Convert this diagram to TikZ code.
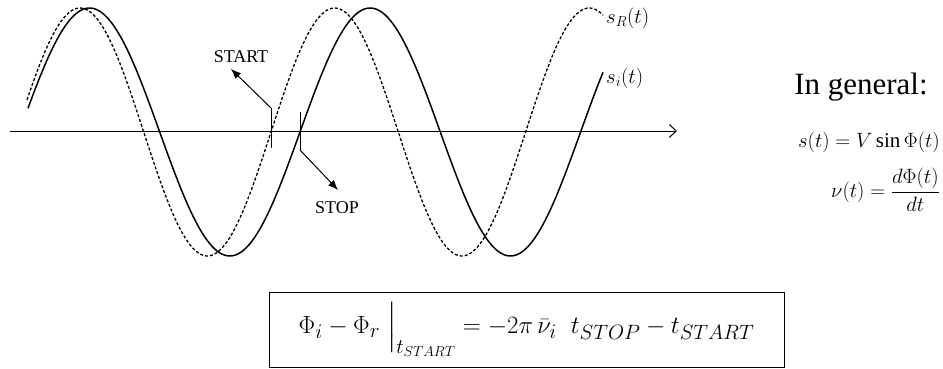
\documentclass[tikz,border=0pt]{standalone}
\usepackage{amsmath,amssymb}
\usepackage{fontspec}
\setmainfont{Liberation Serif}
\usetikzlibrary{arrows.meta,positioning}

\begin{document}
\begin{tikzpicture}[x=1pt,y=-1pt,
every node/.style={inner sep=1pt}, lbl/.style={font=\fontsize{18}{20}\selectfont},
wave/.style={line width=1.5pt}, refwave/.style={line width=1.3pt,dash pattern=on 3pt off 2pt},
tick/.style={line width=1pt}, arr/.style={-{Latex[length=10pt,width=8pt]},line width=1pt}]
\useasboundingbox (0,0) rectangle (943,369);

% time axis
\coordinate (axL) at (10,131); \coordinate (axR) at (677,131);
\draw[line width=1pt,-{Straight Barb[length=7pt,width=13pt,line width=1pt]}] (axL)--(axR);

% reference and measured signals
\draw[refwave] plot[domain=27:603,samples=220] (\x,{132-124*sin((\x-271)/127.3*180)});
\draw[wave] plot[domain=28:603,samples=220] (\x,{132-124*sin((\x-300)/140.3*180)});
\node[anchor=west,font=\fontsize{21}{23}\selectfont] (sR) at (605,18) {$s_R(t)$};
\node[anchor=west,font=\fontsize{21}{23}\selectfont] (si) at (605,78) {$s_i(t)$};

% start / stop markers
\coordinate (startTop) at (271,108); \coordinate (startBot) at (271,148);
\coordinate (stopTop) at (300,112); \coordinate (stopBot) at (300,150);
\draw[tick] (startTop)--(startBot); \draw[tick] (stopTop)--(stopBot);
\node[lbl] (start) at (241,57) {START};
\node[lbl] (stop) at (337,208) {STOP};
\coordinate (startTip) at (231,69); \coordinate (stopTip) at (338,190);
\draw[arr] (startTop)--(startTip); \draw[arr] (stopBot)--(stopTip);

% general relations
\node[anchor=base,font=\fontsize{31}{33}\selectfont] (general) at (861,95) {In general:};
\node[anchor=base east,font=\fontsize{21}{23}\selectfont] (sdef) at (941,147) {$s(t)=V\sin\Phi(t)$};
\node[anchor=east,font=\fontsize{21}{23}\selectfont] (nudef) at (941,190) {$\nu(t)=\dfrac{d\Phi(t)}{dt}$};

\node[draw,line width=0.9pt,minimum width=515pt,minimum height=75pt,font=\fontsize{28}{30}\selectfont] (phase) at (526.5,329.5)
{$\Phi_i-\Phi_r\ \Big|_{t_{START}}=-2\pi\,\bar{\nu}_i\ \ t_{STOP}-t_{START}$};
\end{tikzpicture}
\end{document}
